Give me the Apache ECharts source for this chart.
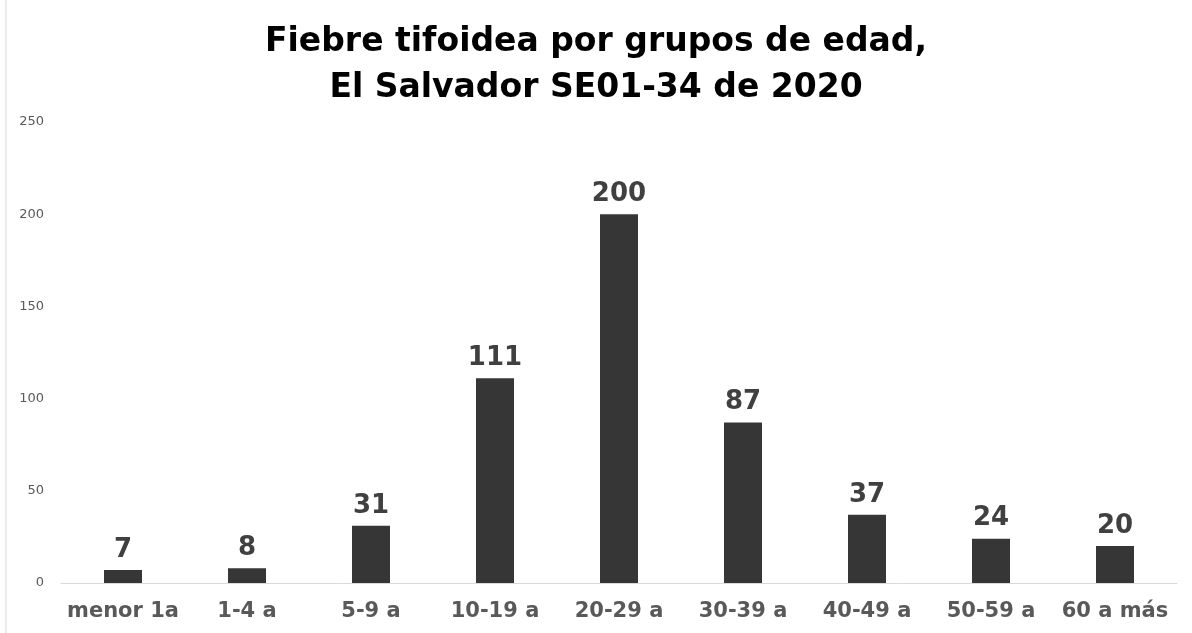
<!DOCTYPE html>
<html><head><meta charset="utf-8">
<script src="https://cdn.jsdelivr.net/npm/echarts@6/dist/echarts.min.js"></script>
<style>html,body{margin:0;padding:0;background:#fff}#c{width:1192px;height:633px}</style>
</head><body><div id="c"></div>
<script>
const categories = ['menor 1a','1-4 a','5-9 a','10-19 a','20-29 a','30-39 a','40-49 a','50-59 a','60 a más'];
const values = [7,8,31,111,200,87,37,24,20];
const titleLines = ['Fiebre tifoidea por grupos de edad,','El Salvador SE01-34 de 2020'];

const F = 'DejaVu Sans';
const chart = echarts.init(document.getElementById('c'));
chart.setOption({
  animation:false,
  title:{text:titleLines.join('\n'),left:'center',top:14,
    textStyle:{fontFamily:F,fontWeight:'bold',fontSize:33,color:'#000',lineHeight:46}},
  graphic:[{type:'line',shape:{x1:6,y1:0,x2:6,y2:633},style:{stroke:'#d9d9d9',lineWidth:1}}],
  grid:{left:61,right:15,top:122,bottom:50},
  xAxis:{type:'category',data:categories,
    axisLine:{lineStyle:{color:'#d9d9d9'}},axisTick:{show:false},
    axisLabel:{fontFamily:F,fontWeight:'bold',fontSize:21,color:'#595959',margin:18,interval:0}},
  yAxis:{type:'value',min:0,max:250,interval:50,
    splitLine:{show:false},axisLine:{show:false},axisTick:{show:false},
    axisLabel:{fontFamily:F,fontSize:13,color:'#595959',margin:17}},
  series:[{type:'bar',data:values,barWidth:38,
    itemStyle:{color:'#363636'},
    label:{show:true,position:'top',distance:7,fontFamily:F,fontWeight:'bold',fontSize:26,color:'#404040'}}]
});
</script></body></html>
